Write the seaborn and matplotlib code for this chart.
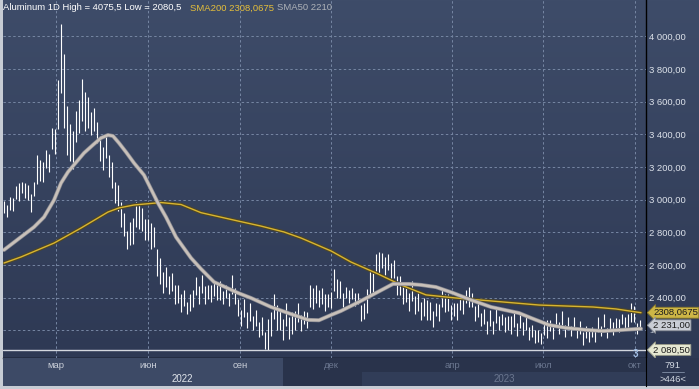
import matplotlib
matplotlib.use("Agg")
import matplotlib.pyplot as plt
import matplotlib.transforms as mtransforms
import matplotlib.patheffects as pe
from matplotlib.colors import LinearSegmentedColormap
import numpy as np
import pandas as pd
import seaborn as sns

# daily bars, sampled every 3 days from 8 Jan 2022
bar_start = "2022-01-08"
bar_step = "3D"
highs = [
    2990, 2965, 3015, 3010, 3085, 3100, 3110, 3100, 3090, 3035,
    3110, 3275, 3245, 3230, 3305, 3280, 3440, 3430, 3730, 4075.5,
    3890, 3575, 3465, 3420, 3545, 3610, 3740, 3660, 3630, 3535,
    3560, 3475, 3385, 3320, 3395, 3270, 3230, 3110, 3090, 2985,
    2920, 2805, 2865, 2890, 2985, 2970, 2950, 2880, 2880, 2855,
    2830, 2695, 2645, 2560, 2585, 2530, 2550, 2480, 2480, 2425,
    2450, 2375, 2425, 2450, 2525, 2470, 2540, 2470, 2480, 2475,
    2500, 2495, 2505, 2440, 2475, 2430, 2540, 2460, 2390, 2325,
    2390, 2315, 2365, 2290, 2325, 2250, 2280, 2190, 2270, 2315,
    2420, 2355, 2325, 2270, 2365, 2280, 2310, 2320, 2370, 2295,
    2320, 2315, 2475, 2460, 2475, 2450, 2460, 2420, 2420, 2435,
    2575, 2515, 2505, 2430, 2465, 2450, 2460, 2430, 2430, 2355,
    2370, 2455, 2565, 2550, 2665, 2680, 2675, 2650, 2670, 2615,
    2630, 2535, 2535, 2470, 2475, 2430, 2500, 2410, 2450, 2375,
    2400, 2385, 2375, 2320, 2365, 2360, 2450, 2420, 2420, 2355,
    2370, 2365, 2425, 2410, 2450, 2466, 2430, 2350, 2370, 2305,
    2330, 2255, 2325, 2260, 2335, 2290, 2300, 2280, 2290, 2285,
    2310, 2245, 2305, 2250, 2285, 2220, 2230, 2200, 2200, 2185,
    2260, 2265, 2265, 2220, 2305, 2250, 2320, 2230, 2280, 2225,
    2280, 2215, 2255, 2190, 2225, 2200, 2220, 2200, 2280, 2225,
    2300, 2215, 2275, 2250, 2275, 2270, 2300, 2280, 2300, 2370,
    2350, 2245, 2265,
]
lows = [
    2920, 2895, 2935, 2930, 3005, 2990, 3040, 3010, 3000, 2925,
    3020, 3095, 3115, 3110, 3195, 3170, 3310, 3280, 3430, 3650,
    3440, 3275, 3235, 3190, 3355, 3410, 3480, 3420, 3440, 3395,
    3420, 3345, 3235, 3180, 3255, 3140, 3070, 2980, 2930, 2835,
    2780, 2698, 2725, 2730, 2835, 2820, 2810, 2750, 2750, 2695,
    2710, 2535, 2485, 2430, 2465, 2420, 2440, 2360, 2370, 2315,
    2350, 2300, 2318, 2340, 2415, 2360, 2430, 2360, 2390, 2375,
    2410, 2385, 2385, 2360, 2395, 2350, 2420, 2360, 2290, 2225,
    2280, 2215, 2255, 2200, 2225, 2160, 2170, 2085, 2080.5, 2165,
    2270, 2205, 2205, 2140, 2225, 2150, 2180, 2200, 2250, 2195,
    2240, 2215, 2345, 2330, 2365, 2340, 2360, 2320, 2340, 2335,
    2440, 2395, 2395, 2340, 2395, 2370, 2390, 2350, 2360, 2255,
    2270, 2305, 2425, 2420, 2545, 2550, 2580, 2540, 2570, 2515,
    2520, 2415, 2415, 2360, 2375, 2320, 2380, 2300, 2320, 2265,
    2290, 2265, 2265, 2220, 2285, 2260, 2340, 2310, 2320, 2265,
    2290, 2265, 2325, 2300, 2365, 2340, 2340, 2260, 2280, 2225,
    2240, 2175, 2225, 2180, 2245, 2200, 2230, 2190, 2200, 2175,
    2220, 2165, 2215, 2170, 2205, 2140, 2160, 2120, 2130, 2115,
    2170, 2155, 2195, 2150, 2225, 2180, 2230, 2160, 2210, 2165,
    2210, 2155, 2175, 2110, 2155, 2130, 2160, 2130, 2190, 2165,
    2220, 2155, 2195, 2170, 2215, 2190, 2240, 2200, 2220, 2250,
    2250, 2175, 2215,
]
last_close = 2231.00

sma200_dates = [
    "2022-01-08", "2022-01-25", "2022-02-27", "2022-03-26", "2022-04-22",
    "2022-05-03", "2022-05-18", "2022-06-14", "2022-07-04", "2022-07-24",
    "2022-08-30", "2022-09-22", "2022-10-15", "2022-11-01", "2022-12-01",
    "2022-12-21", "2023-01-15", "2023-02-09", "2023-03-06", "2023-04-05",
    "2023-05-10", "2023-06-27", "2023-07-24", "2023-08-20", "2023-09-12",
    "2023-10-07",
]
sma200_values = [
    2612, 2649, 2734, 2826, 2924,
    2949, 2967, 2982, 2970, 2920,
    2869, 2838, 2802, 2765, 2686,
    2618, 2551, 2478, 2417, 2398,
    2380, 2355, 2349, 2343, 2331,
    2308.0675,
]
sma50_dates = [
    "2022-01-08", "2022-02-07", "2022-02-17", "2022-02-27", "2022-03-06",
    "2022-03-13", "2022-03-29", "2022-04-08", "2022-04-15", "2022-04-22",
    "2022-04-27", "2022-05-03", "2022-05-10", "2022-05-18", "2022-05-28",
    "2022-06-11", "2022-06-19", "2022-06-29", "2022-07-14", "2022-07-24",
    "2022-08-06", "2022-08-30", "2022-09-12", "2022-10-02", "2022-10-22",
    "2022-11-08", "2022-11-19", "2022-12-01", "2022-12-11", "2022-12-29",
    "2023-01-15", "2023-02-01", "2023-02-17", "2023-03-01", "2023-03-16",
    "2023-04-02", "2023-04-20", "2023-05-10", "2023-06-07", "2023-06-19",
    "2023-07-07", "2023-07-24", "2023-08-13", "2023-08-30", "2023-10-07",
]
sma50_values = [
    2692, 2832, 2893, 2997, 3101,
    3169, 3285, 3340, 3377, 3395,
    3389, 3346, 3291, 3224, 3150,
    2979, 2893, 2771, 2643, 2576,
    2496, 2429, 2398, 2343, 2300,
    2264, 2262, 2294, 2319, 2374,
    2429, 2484, 2484, 2478, 2465,
    2429, 2386, 2343, 2306, 2276,
    2233, 2215, 2203, 2196, 2210,
]

price_ticks = [2400, 2600, 2800, 3000, 3200, 3400, 3600, 3800, 4000]
grid_levels = [2200] + price_ticks
month_ticks = ["2022-03-01", "2022-06-01", "2022-09-01", "2022-12-01",
               "2023-04-01", "2023-07-01", "2023-10-01"]
month_labels = ["мар", "июн", "сен", "дек", "апр", "июл", "окт"]
month_bright = [True, True, True, False, False, False, False]
year_starts = ["2022-01-07", "2023-01-01"]
year_labels = ["2022", "2023"]
view_start, view_end = "2022-01-07", "2023-10-12"
highlight_end = "2022-10-14"
footer_top, footer_bottom = "791", ">446<"


def fmt_price(v):
    return f"{v:,.2f}".replace(",", " ").replace(".", ",")


sns.set_style("dark")
plt.rcParams["font.family"] = ["Liberation Sans", "DejaVu Sans"]

W, H = 699, 389
fig = plt.figure(figsize=(W / 100, H / 100), dpi=100)
fig.patch.set_facecolor("#c7ccd4")


def box(x0, y0, x1, y1):
    return [x0 / W, 1 - y1 / H, (x1 - x0) / W, (y1 - y0) / H]


bg_cmap = LinearSegmentedColormap.from_list("bg", ["#3e4c69", "#2e3954"])
grad = np.linspace(0, 1, 256).reshape(-1, 1)

# background for the price column on the right
ax_bg = fig.add_axes(box(3, 0, 699, 358))
ax_bg.imshow(grad, cmap=bg_cmap, aspect="auto", extent=[0, 1, 1, 0])
ax_bg.set_axis_off()

ax = fig.add_axes(box(3, 0, 646, 358))
ax.imshow(grad, cmap=bg_cmap, aspect="auto", extent=[0, 1, 0, 1],
          transform=ax.transAxes, zorder=0)

dates = pd.date_range(bar_start, periods=len(highs), freq=bar_step)
ax.vlines(dates, lows, highs, color="white", lw=0.8, zorder=3)

sma200 = pd.DataFrame({"date": pd.to_datetime(sma200_dates), "value": sma200_values})
sma50 = pd.DataFrame({"date": pd.to_datetime(sma50_dates), "value": sma50_values})
sns.lineplot(data=sma200, x="date", y="value", ax=ax, color="#d9b52f", lw=1.0,
             zorder=5, path_effects=[pe.Stroke(linewidth=2.6, foreground="#4d4628"), pe.Normal()])
sns.lineplot(data=sma50, x="date", y="value", ax=ax, color="#c8c0b9", lw=1.9,
             zorder=6, path_effects=[pe.Stroke(linewidth=2.9, foreground="#878890"), pe.Normal()])

ax.axhline(min(lows), color="#d3d7de", lw=1.0, zorder=4)

ax.set_xlim(pd.Timestamp(view_start), pd.Timestamp(view_end))
ax.set_ylim(2031, 4221)
ax.set_xticks(pd.to_datetime(month_ticks))
ax.set_yticks(grid_levels)
ax.set_yticklabels(["" if v not in price_ticks else fmt_price(v) for v in grid_levels])
ax.yaxis.tick_right()
ax.tick_params(axis="y", length=0, pad=2.0, labelsize=6.8, labelcolor="#dde2ea")
ax.tick_params(axis="x", length=0, labelbottom=False)
ax.grid(True, color="#7686a3", lw=0.7, ls=(0, (2.5, 2.5)))
ax.set_axisbelow(False)
for gl in ax.get_xgridlines() + ax.get_ygridlines():
    gl.set_zorder(1)
ax.set_xlabel("")
ax.set_ylabel("")
for side in ["top", "left"]:
    ax.spines[side].set_visible(False)
for side in ["right", "bottom"]:
    ax.spines[side].set_color("black")
    ax.spines[side].set_linewidth(1.0)

# price tags on the right axis
trans = mtransforms.blended_transform_factory(ax.transAxes, ax.transData)
tags = [
    (sma200_values[-1], f"{sma200_values[-1]:.4f}".replace(".", ","), "#cdb646", "#8a7a2a"),
    (last_close, fmt_price(last_close), "#c9cdd5", "#8a8e96"),
    (min(lows), fmt_price(min(lows)), "#e6e8d2", "#9a9c88"),
]
for val, txt, face, edge in tags:
    ax.text(1.0 + 7 / 643, val, txt, transform=trans, fontsize=6.8, color="#1c1c1c",
            va="center", ha="left", clip_on=False, zorder=10,
            bbox=dict(boxstyle="larrow,pad=0.1", fc=face, ec=edge, lw=0.6))
ax.text(1.0 + 3 / 643, last_close - 40, "1", transform=trans, fontsize=5.5,
        color="#b8c0cc", va="center", ha="left", clip_on=False)
ax.text(pd.Timestamp(month_ticks[-1]), 2056, "3", fontsize=7, color="#a4c0e6",
        va="center", ha="center", fontweight="bold", zorder=8)

# time axis band
axb = fig.add_axes(box(3, 358, 646, 386))
axb.set_facecolor("#29334b")
axb.set_xlim(pd.Timestamp(view_start), pd.Timestamp(view_end))
axb.set_ylim(0, 1)
axb.axvspan(pd.Timestamp(view_start), pd.Timestamp(highlight_end), color="#3d4a66", lw=0)
axb.axvspan(pd.Timestamp(year_starts[1]), pd.Timestamp(view_end), ymax=0.5, color="#313d58", lw=0)
for d, lab, bright in zip(month_ticks, month_labels, month_bright):
    axb.text(pd.Timestamp(d), 0.74, lab, ha="center", va="center", fontsize=6.8,
             color="#c9ced8" if bright else "#6b7790")
year_edges = [pd.Timestamp(s) for s in year_starts] + [pd.Timestamp(view_end)]
for i, lab in enumerate(year_labels):
    mid = year_edges[i] + (year_edges[i + 1] - year_edges[i]) / 2
    axb.text(mid, 0.25, lab, ha="center", va="center", fontsize=7,
             color="#e2e6ec" if i == 0 else "#6b7790")
axb.set_xticks([])
axb.set_yticks([])
for s in axb.spines.values():
    s.set_visible(False)

# counter box bottom right
axc = fig.add_axes(box(646, 358, 699, 386))
axc.set_facecolor("#2c3650")
axc.set_xlim(0, 1)
axc.set_ylim(0, 1)
axc.text(0.5, 0.74, footer_top, ha="center", va="center", fontsize=6.8, color="#d0d6e0")
axc.text(0.5, 0.25, footer_bottom, ha="center", va="center", fontsize=6.8, color="#d0d6e0")
axc.plot([0.3, 0.72], [0.5, 0.5], color="#8390a8", lw=0.6)
axc.set_xticks([])
axc.set_yticks([])
for side, s in axc.spines.items():
    s.set_visible(side == "left")
    s.set_color("black")

# header line
hy = 1 - 8 / H
fig.text(3 / W, hy, f"Aluminum 1D High = {max(highs):.1f} Low = {min(lows):.1f}".replace(".", ","),
         fontsize=6.8, color="white", va="center", ha="left")
fig.text(190 / W, hy, f"SMA200 {sma200_values[-1]:.4f}".replace(".", ","),
         fontsize=6.8, color="#e6bf3a", va="center", ha="left")
fig.text(277 / W, hy, f"SMA50 {sma50_values[-1]:.0f}", fontsize=6.8,
         color="#aeb2b8", va="center", ha="left")

fig.savefig("out.png", dpi=100, facecolor=fig.get_facecolor())
